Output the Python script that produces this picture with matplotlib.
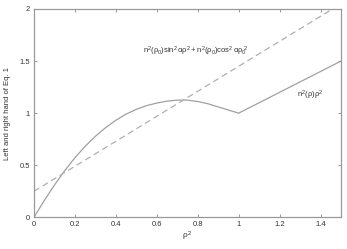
import matplotlib
matplotlib.use("Agg")
import matplotlib.pyplot as plt

# solid curve: left hand side n^2(rho) rho^2
rho2 = [0, 0.05, 0.1, 0.15, 0.2, 0.25, 0.3, 0.35, 0.4, 0.45, 0.5,
        0.55, 0.6, 0.65, 0.7, 0.75, 0.8, 0.85, 0.9, 0.95, 1.0, 1.5]
lhs = [0, 0.16, 0.31, 0.448, 0.572, 0.682, 0.778, 0.861, 0.932, 0.991, 1.037,
       1.072, 1.097, 1.115, 1.125, 1.125, 1.112, 1.09, 1.06, 1.03, 1.0, 1.5]

# dashed line: right hand side
rhs_x = [0, 1.5]
rhs_y = [0.25, 2.05]

xticks = [0, 0.2, 0.4, 0.6, 0.8, 1, 1.2, 1.4]
xticklabels = ["0", "0.2", "0.4", "0.6", "0.8", "1", "1.2", "1.4"]
yticks = [0, 0.5, 1, 1.5, 2]
yticklabels = ["0", "0.5", "1", "1.5", "2"]

plt.rcParams["font.family"] = ["Liberation Sans", "DejaVu Sans"]
plt.rcParams["mathtext.fontset"] = "custom"
plt.rcParams["mathtext.rm"] = "Liberation Sans"
plt.rcParams["mathtext.it"] = "Liberation Sans"

fig = plt.figure(figsize=(3.47, 2.49), dpi=100)
ax = fig.add_axes([34 / 347, 1 - 217.3 / 249, (341 - 34) / 347, (217.3 - 9) / 249])

ax.plot(rho2, lhs, color="#a0a0a0", lw=0.9)
ax.plot(rhs_x, rhs_y, color="#b0b0b0", lw=0.9, dashes=(5, 3))

ax.set_xlim(0, 1.5)
ax.set_ylim(0, 2)
ax.set_xticks(xticks)
ax.set_xticklabels(xticklabels)
ax.set_yticks(yticks)
ax.set_yticklabels(yticklabels)
ax.tick_params(direction="in", length=2.5, width=0.6, colors="#888888",
               labelcolor="#333333", labelsize=5.5, top=True, right=True, pad=3)
for s in ax.spines.values():
    s.set_color("#999999")
    s.set_linewidth(0.9)

ax.set_xlabel(r"$\rho^2$", fontsize=6, color="#333333", labelpad=1)
ax.set_ylabel("Left and right hand of Eq. 1", fontsize=5.5, color="#333333", labelpad=6)

ax.text(0.79, 1.59, r"$n^2(\rho_0)\sin^2\alpha\rho^2 + n^2(\rho_0)\cos^2\alpha\rho_0^{\ 2}$",
        fontsize=5.5, color="#333333", ha="center", va="center")
ax.text(1.35, 1.175, r"$n^2(\rho)\rho^2$", fontsize=5.5, color="#333333",
        ha="center", va="center")

fig.savefig("out.png", dpi=100)
